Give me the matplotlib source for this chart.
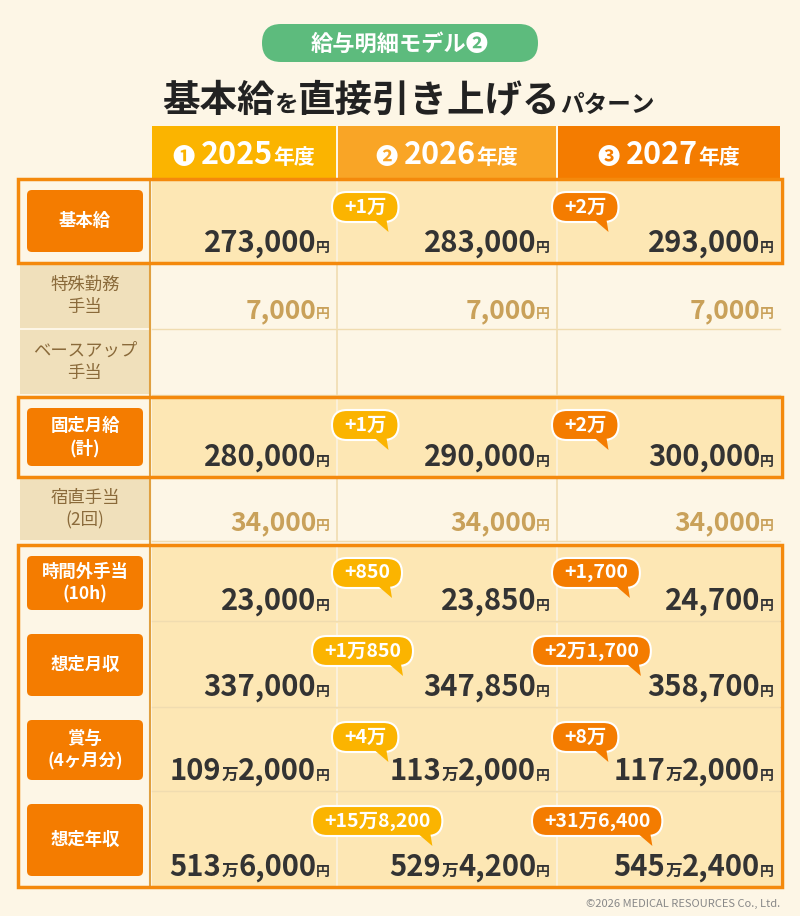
import matplotlib
matplotlib.use("Agg")
import matplotlib.pyplot as plt
from matplotlib.patches import FancyBboxPatch, Rectangle, Polygon

plt.rcParams['font.family'] = ['Noto Sans CJK JP', 'DejaVu Sans']

years = ["2025", "2026", "2027"]
year_marks = ["❶", "❷", "❸"]
row_labels = ["基本給", "特殊勤務\n手当", "ベースアップ\n手当", "固定月給\n(計)", "宿直手当\n(2回)",
              "時間外手当\n(10h)", "想定月収", "賞与\n(4ヶ月分)", "想定年収"]
highlight = [True, False, False, True, False, True, True, True, True]
values = [
    [("", "273,000"), ("", "283,000"), ("", "293,000")],
    [("", "7,000"), ("", "7,000"), ("", "7,000")],
    [None, None, None],
    [("", "280,000"), ("", "290,000"), ("", "300,000")],
    [("", "34,000"), ("", "34,000"), ("", "34,000")],
    [("", "23,000"), ("", "23,850"), ("", "24,700")],
    [("", "337,000"), ("", "347,850"), ("", "358,700")],
    [("109", "2,000"), ("113", "2,000"), ("117", "2,000")],
    [("513", "6,000"), ("529", "4,200"), ("545", "2,400")],
]
increments = [
    ["+1万", "+2万"], None, None, ["+1万", "+2万"], None,
    ["+850", "+1,700"], ["+1万850", "+2万1,700"], ["+4万", "+8万"], ["+15万8,200", "+31万6,400"],
]

row_top = [180, 264, 330, 398, 478, 546, 624, 710, 794]
row_bot = [262, 328, 394, 476, 540, 620, 706, 790, 886]
col_l = [152, 338, 558]
col_r = [336, 556, 780]
BG = "#fdf6e6"
ORANGE = "#f4890c"
HL_FILL = "#fde7b4"

fig = plt.figure(figsize=(8, 9.16), dpi=100)
ax = fig.add_axes([0, 0, 1, 1])
ax.set_xlim(0, 800); ax.set_ylim(916, 0); ax.axis('off')
fig.patch.set_facecolor(BG)
r = fig.canvas.get_renderer()
S = 800 / fig.bbox.width

def width(txt, size, w='bold'):
    t = ax.text(0, 0, txt, fontsize=size, fontweight=w)
    wd = t.get_window_extent(r).width * S
    t.remove()
    return wd

def rich(xr, yb, segs, z=4):
    x = xr
    for txt, size, color, w in reversed(segs):
        ax.text(x, yb, txt, fontsize=size, color=color, fontweight=w, ha='right', va='baseline', zorder=z)
        x -= width(txt, size, w)
    return x

# title pill
ax.add_patch(FancyBboxPatch((262, 24), 276, 38, boxstyle="round,pad=0,rounding_size=19", fc="#5dbb7d", ec="none"))
ax.text(400, 44, "給与明細モデル❷", fontsize=16, color="white", fontweight='bold', ha='center', va='center')
rich(655, 112, [("基本給", 27, "#222", 'bold'), ("を", 17, "#222", 'bold'), ("直接引き上げる", 27, "#222", 'bold'),
                ("パターン", 17, "#222", 'bold')])

# headers
hcols = ["#fbb400", "#f9a526", "#f47c00"]
for i in range(3):
    ax.add_patch(Rectangle((col_l[i], 126), col_r[i] - col_l[i], 52, fc=hcols[i], ec="none"))
    cx = (col_l[i] + col_r[i]) / 2
    segs = [(year_marks[i] + " ", 16, "white", 'bold'), (years[i], 22, "white", 'bold'), ("年度", 15, "white", 'bold')]
    tot = sum(width(s[0], s[1]) for s in segs)
    rich(cx + tot / 2, 164, segs)

groups = [(0, 0), (3, 3), (5, 8)]
for a, b in groups:
    y0, y1 = row_top[a] - 1, row_bot[b] + 1
    ax.add_patch(Rectangle((152, y0), 628, y1 - y0, fc=HL_FILL, ec="none", zorder=0))
    ax.add_patch(Rectangle((18, y0), 764, y1 - y0, fc="none", ec=ORANGE, lw=2.5, zorder=5))
    ax.add_patch(Rectangle((18, y0), 132, y1 - y0, fc=BG, ec="none", zorder=0))

for i, (t, b) in enumerate(zip(row_top, row_bot)):
    for x in [337, 557]:
        ax.plot([x, x], [t, b], color="#f0dcb0" if not highlight[i] else "#fbf3e0", lw=1.2, zorder=1)
    if i < len(row_top) - 1:
        ax.plot([152, 780], [b + 1, b + 1], color="#f0dcb0", lw=1, zorder=1)
ax.plot([150, 150], [180, 886], color="#e0a040", lw=1.5, zorder=2)

for i, lab in enumerate(row_labels):
    t, b = row_top[i], row_bot[i]
    if highlight[i]:
        ax.add_patch(FancyBboxPatch((27, t + 10), 116, b - t - 20, boxstyle="round,pad=0,rounding_size=5",
                                    fc="#f47c00", ec="none", zorder=3))
        col = "white"
    else:
        ax.add_patch(Rectangle((20, t), 130, b - t, fc="#f0e0bb", ec="none", zorder=1))
        col = "#8a6a3a"
    ax.text(85, (t + b) / 2, lab, fontsize=12.5, color=col, ha='center', va='center', linespacing=1.3, zorder=4,
            fontweight='bold' if highlight[i] else 'normal')

for i, row in enumerate(values):
    big = highlight[i]
    color = "#333333" if big else "#c9a15a"
    yb = row_bot[i] - 10
    for j, v in enumerate(row):
        if v is None:
            continue
        man, rest = v
        segs = []
        if man:
            segs += [(man, 21, color, 'bold'), ("万", 12, color, 'bold')]
        segs += [(rest, 21 if big else 19, color, 'bold'), ("円", 10, color, 'bold')]
        rich(col_r[j] - 6, yb, segs)

for i, inc in enumerate(increments):
    if not inc:
        continue
    for j, txt in enumerate(inc):
        fc = "#fbb400" if j == 0 else "#f47c00"
        w = width(txt, 14)
        bw = w + 24
        long_ = w > 80 or (j == 0 and "万" in txt and len(txt) > 3)
        left_edge = (312 if j == 0 else 532) if long_ else (332 if j == 0 else 552)
        top = row_top[i] + 12
        ax.add_patch(FancyBboxPatch((left_edge, top), bw, 30, boxstyle="round,pad=0,rounding_size=15",
                                    fc=fc, ec="white", lw=1.5, zorder=6))
        tx = left_edge + bw - 24
        ax.add_patch(Polygon([(tx, top + 28), (tx + 12, top + 28), (tx + 14, top + 40)], closed=True,
                             fc=fc, ec="none", zorder=7))
        ax.text(left_edge + bw / 2, top + 15, txt, fontsize=14, color="white", fontweight='bold',
                ha='center', va='center', zorder=8)

ax.text(780, 904, "©2026 MEDICAL RESOURCES Co., Ltd.", fontsize=8, color="#888", ha='right', va='center')

fig.savefig("out.png", dpi=100, facecolor=BG)
